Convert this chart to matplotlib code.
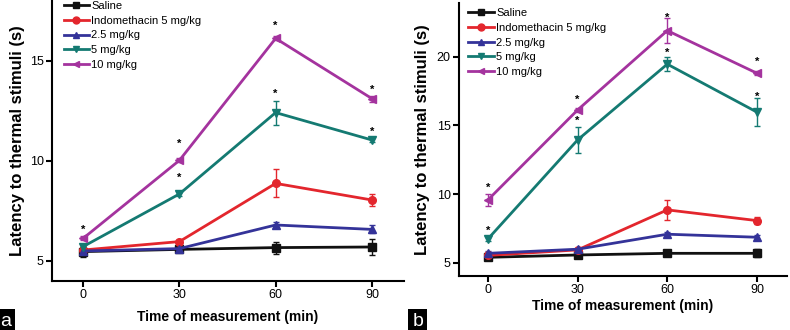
import numpy as np
import matplotlib.pyplot as plt
from matplotlib.lines import Line2D

plt.rcParams['font.family'] = ['Liberation Sans', 'DejaVu Sans']

times = [0, 30, 60, 90]
labels = ['Saline', 'Indomethacin 5 mg/kg', '2.5 mg/kg', '5 mg/kg', '10 mg/kg']
colors = ['#111111', '#e3262d', '#343399', '#147a72', '#a4339e']
markers = ['s', 'o', '^', 'v', '<']

# panel a
a_saline = [5.47, 5.58, 5.67, 5.70]
a_indo = [5.55, 5.97, 8.88, 8.05]
a_25 = [5.50, 5.62, 6.80, 6.58]
a_5 = [5.72, 8.35, 12.42, 11.05]
a_10 = [6.13, 10.03, 16.13, 13.12]
a_saline_err = [0.25, 0.05, 0.30, 0.40]
a_indo_err = [0.15, 0.10, 0.70, 0.30]
a_25_err = [0.10, 0.05, 0.15, 0.20]
a_5_err = [0.10, 0.10, 0.60, 0.10]
a_10_err = [0.10, 0.10, 0.10, 0.15]
a_star_x = [0, 30, 30, 60, 60, 90, 90]
a_star_y = [6.55, 10.85, 9.15, 16.75, 13.35, 13.55, 11.45]

# panel b
b_saline = [5.41, 5.58, 5.70, 5.70]
b_indo = [5.55, 5.95, 8.86, 8.08]
b_25 = [5.70, 6.00, 7.09, 6.87]
b_5 = [6.75, 13.95, 19.46, 15.97]
b_10 = [9.59, 16.13, 21.90, 18.80]
b_saline_err = [0.20, 0.05, 0.20, 0.30]
b_indo_err = [0.20, 0.10, 0.70, 0.25]
b_25_err = [0.15, 0.10, 0.15, 0.15]
b_5_err = [0.15, 0.95, 0.50, 1.00]
b_10_err = [0.45, 0.15, 0.90, 0.15]
b_star_x = [0, 0, 30, 30, 60, 60, 90, 90]
b_star_y = [10.45, 7.30, 16.85, 15.35, 22.85, 20.25, 19.65, 17.05]


def draw_panel(ax, series, errs, star_x, star_y, ylim, yticks, xlabpad, ylabpad, leg_xy):
    for vals, err, c, m in zip(series, errs, colors, markers):
        ax.errorbar(times, vals, yerr=err, color=c, marker=m, markersize=5.5,
                    linewidth=2, elinewidth=1, capsize=2.5, capthick=1, ecolor=c)
    for x, y in zip(star_x, star_y):
        ax.text(x, y, '*', ha='center', va='center', fontsize=8, fontweight='bold')
    ax.set_xlim(-9.7, 100)
    ax.set_ylim(*ylim)
    ax.set_xticks(times)
    ax.set_yticks(yticks)
    ax.spines['top'].set_visible(False)
    ax.spines['right'].set_visible(False)
    ax.spines['left'].set_linewidth(1.5)
    ax.spines['bottom'].set_linewidth(1.5)
    ax.tick_params(direction='out', length=4, width=1.5, labelsize=9, pad=2)
    ax.set_xlabel('Time of measurement (min)', fontsize=10, fontweight='bold',
                  labelpad=xlabpad)
    ax.set_ylabel('Latency to thermal stimuli (s)', fontsize=12, fontweight='bold',
                  labelpad=ylabpad)
    handles = [Line2D([], [], color=c, marker=m, markersize=5, linewidth=2)
               for c, m in zip(colors, markers)]
    ax.legend(handles, labels, loc='upper left', frameon=False, fontsize=8,
              handlelength=2.3, handletextpad=0.2, labelspacing=0.42,
              borderaxespad=0.0, borderpad=0.1, bbox_to_anchor=leg_xy)


fig = plt.figure(figsize=(7.9, 3.3), dpi=100)
ax_a = fig.add_axes([0.0658, 0.1485, 0.4456, 0.8515])
ax_b = fig.add_axes([0.581, 0.1636, 0.415, 0.827])

draw_panel(ax_a, [a_saline, a_indo, a_25, a_5, a_10],
           [a_saline_err, a_indo_err, a_25_err, a_5_err, a_10_err],
           a_star_x, a_star_y, (4.0, 18.05), [5, 10, 15], 6, 3, (0.03, 1.0))
draw_panel(ax_b, [b_saline, b_indo, b_25, b_5, b_10],
           [b_saline_err, b_indo_err, b_25_err, b_5_err, b_10_err],
           b_star_x, b_star_y, (4.05, 23.9), [5, 10, 15, 20], 2, 5, (0.025, 0.985))

fig.text(0.0, 0.0, 'a', color='white', fontsize=14, ha='left', va='bottom',
         bbox=dict(facecolor='black', edgecolor='none', pad=3))
fig.text(0.522, 0.0, 'b', color='white', fontsize=14, ha='left', va='bottom',
         bbox=dict(facecolor='black', edgecolor='none', pad=3))

fig.savefig('out.png', dpi=100)
